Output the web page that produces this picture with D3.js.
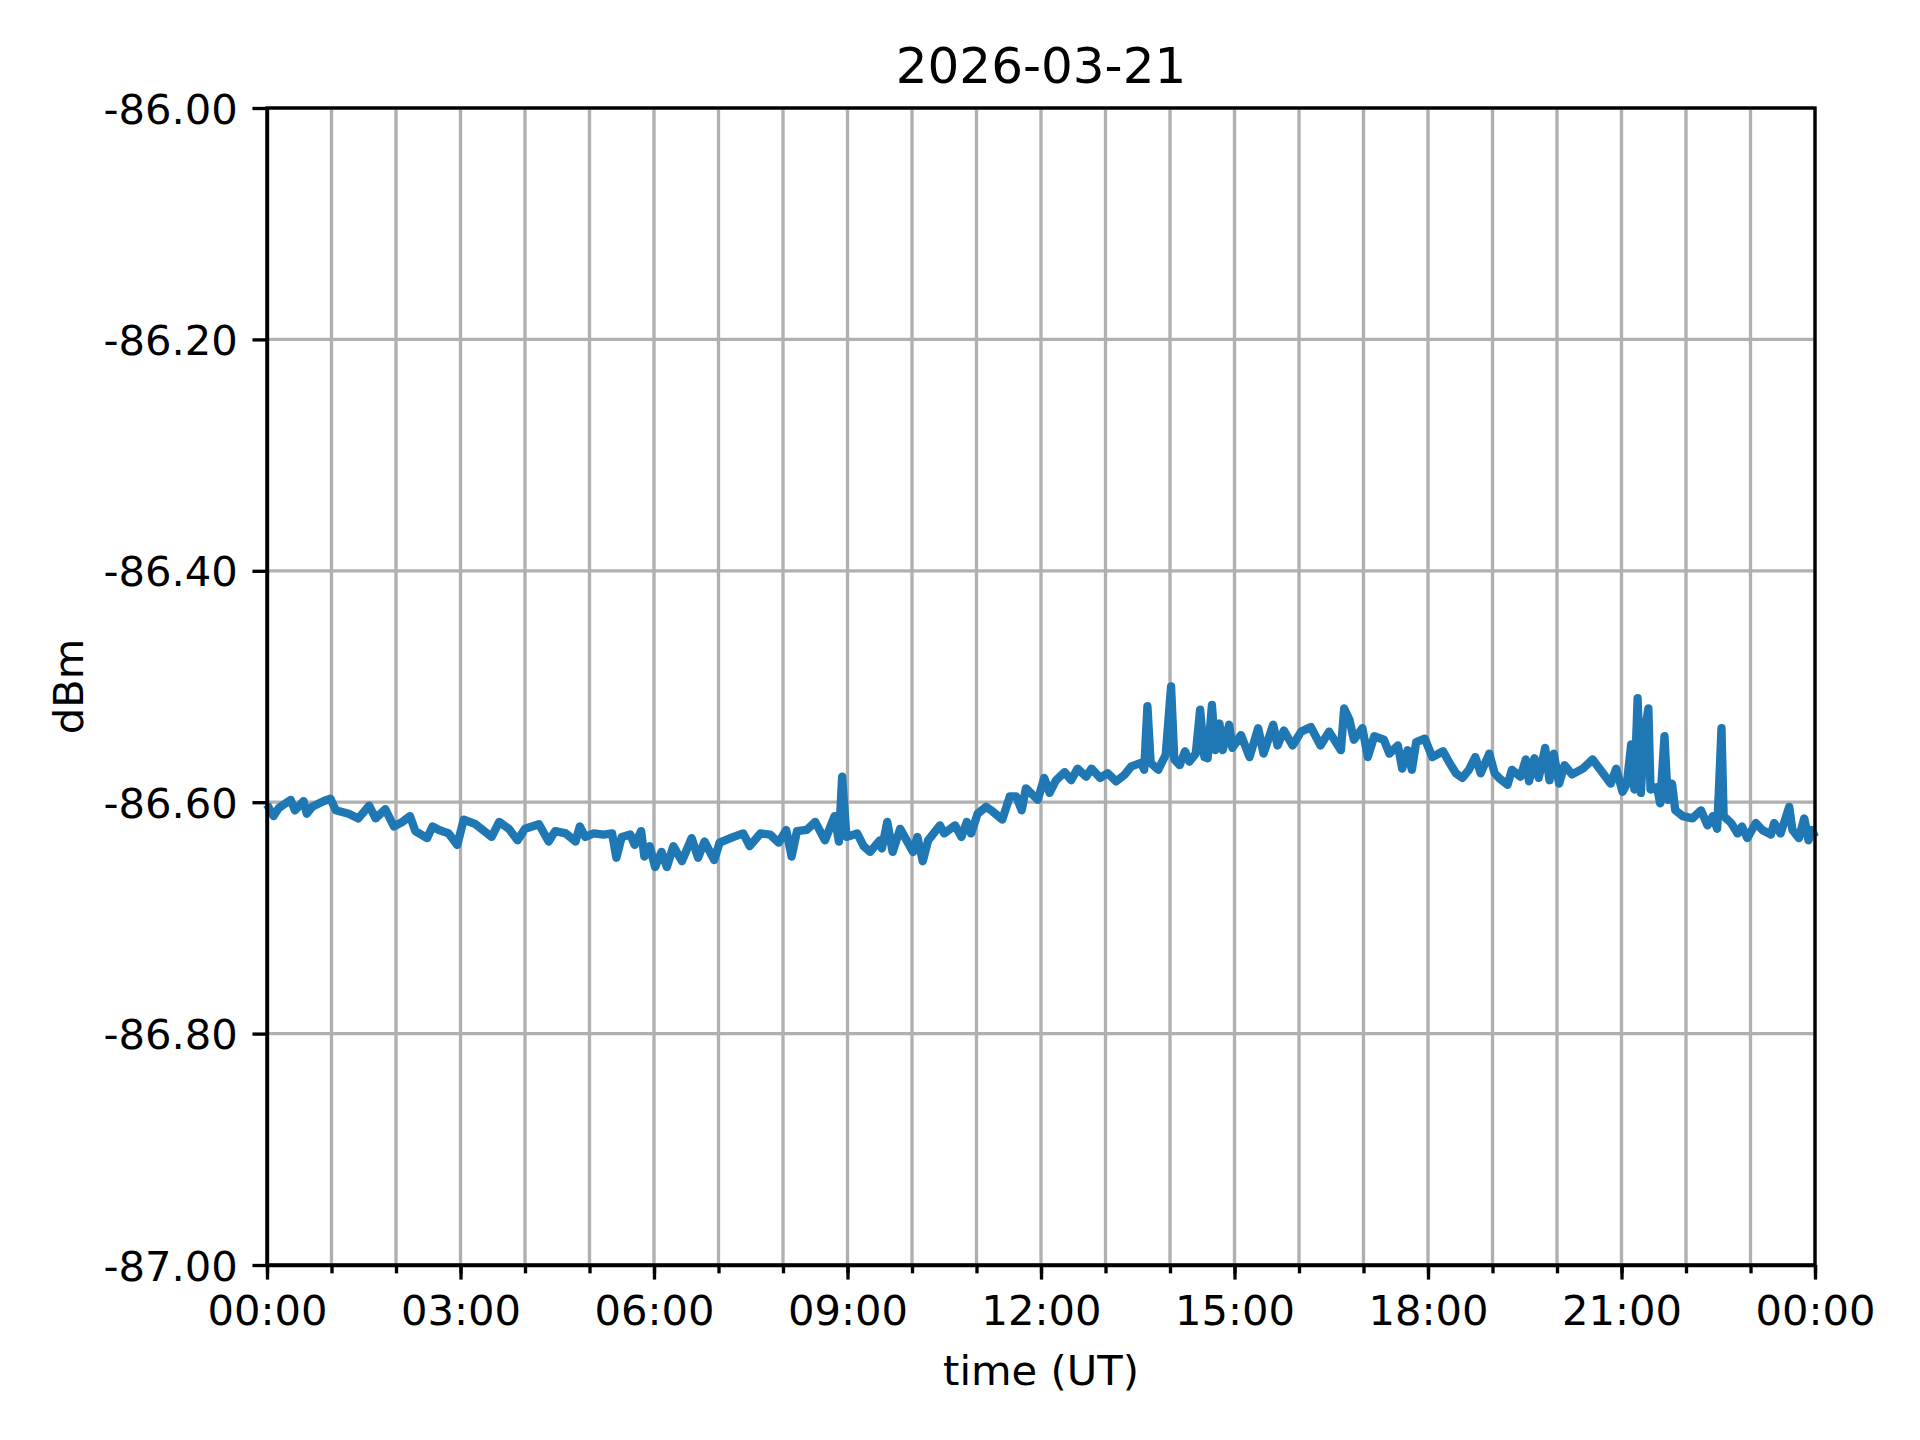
<!DOCTYPE html>
<html lang="en">
<head>
<meta charset="utf-8">
<title>2026-03-21</title>
<script src="https://d3js.org/d3.v7.min.js"></script>
<style>
    body { margin: 0; background: #fff; }
    text { font-family: "DejaVu Sans", sans-serif; fill: #000; }
</style>
</head>
<body>
<svg width="1920" height="1440"></svg>
<script>
    var title = "2026-03-21";
    var xLabel = "time (UT)";
    var yLabel = "dBm";
    var day = "2026-03-21T00:00:00Z";

    // [minute of day, dBm]
    var series = [
        [0,-86.602],[6,-86.612],[11,-86.605],[22,-86.598],[26,-86.607],[34,-86.599],[37,-86.610],[42,-86.604],
        [53,-86.599],[59,-86.597],[64,-86.607],[76,-86.610],[85,-86.614],[95,-86.603],[101,-86.614],[110,-86.606],
        [118,-86.621],[126,-86.617],[133,-86.612],[138,-86.625],[149,-86.631],[154,-86.621],[160,-86.624],[169,-86.627],
        [177,-86.637],[183,-86.615],[194,-86.619],[209,-86.630],[216,-86.617],[225,-86.623],[233,-86.633],[240,-86.623],
        [253,-86.619],[262,-86.634],[268,-86.625],[278,-86.627],[287,-86.634],
        [291,-86.621],[296,-86.630],[304,-86.627],[313,-86.628],[321,-86.627],[325,-86.648],[330,-86.630],[338,-86.628],
        [342,-86.637],[348,-86.625],[351,-86.647],[356,-86.638],[361,-86.656],[367,-86.643],[372,-86.656],[378,-86.638],
        [386,-86.651],[395,-86.631],[401,-86.648],[407,-86.634],[416,-86.650],[421,-86.635],[434,-86.630],[443,-86.627],
        [449,-86.638],[459,-86.627],[468,-86.628],[476,-86.635],[483,-86.624],[488,-86.647],[493,-86.625],[502,-86.624],
        [510,-86.617],[519,-86.633],[528,-86.612],[532,-86.634],[535,-86.578],[539,-86.630],[549,-86.627],[555,-86.638],
        [561,-86.643],[570,-86.633],
        [572,-86.640],[577,-86.617],[582,-86.643],[589,-86.623],[595,-86.633],[601,-86.643],[605,-86.630],[610,-86.651],
        [615,-86.633],[626,-86.620],[630,-86.627],[640,-86.620],[646,-86.630],[651,-86.617],[655,-86.627],[661,-86.610],
        [669,-86.604],[675,-86.608],[684,-86.615],[691,-86.595],[697,-86.595],[702,-86.607],[706,-86.588],[717,-86.598],
        [723,-86.579],[728,-86.592],[734,-86.581],[742,-86.574],[748,-86.581],[754,-86.571],[762,-86.578],[767,-86.571],
        [775,-86.579],[782,-86.575],[790,-86.582],[798,-86.576],[804,-86.569],[813,-86.566],[816,-86.572],[819,-86.517],
        [822,-86.566],[829,-86.572],[836,-86.559],[841,-86.500],[844,-86.563],[849,-86.568],[854,-86.556],
        [858,-86.565],[864,-86.558],[868,-86.520],[872,-86.561],[875,-86.562],[879,-86.516],[882,-86.555],[886,-86.532],
        [889,-86.555],[895,-86.533],[898,-86.553],[906,-86.542],[914,-86.561],[922,-86.536],[927,-86.558],[936,-86.533],
        [940,-86.551],[946,-86.538],[954,-86.551],[962,-86.539],[971,-86.535],[980,-86.551],[988,-86.539],[999,-86.555],
        [1002,-86.519],[1007,-86.529],[1011,-86.546],[1019,-86.536],[1024,-86.561],[1030,-86.543],[1039,-86.546],[1044,-86.558],
        [1052,-86.551],[1056,-86.571],[1061,-86.555],[1065,-86.572],[1069,-86.548],[1077,-86.545],[1084,-86.561],[1094,-86.556],
        [1100,-86.566],[1106,-86.575],[1112,-86.579],[1118,-86.572],[1124,-86.561],[1129,-86.575],[1137,-86.558],[1142,-86.575],
        [1146,-86.579],[1154,-86.585],[1158,-86.572],[1166,-86.578],[1171,-86.563],[1174,-86.582],[1179,-86.562],[1183,-86.579],
        [1189,-86.553],[1193,-86.581],[1197,-86.558],[1202,-86.584],[1207,-86.568],[1214,-86.576],[1224,-86.571],[1233,-86.563],
        [1242,-86.574],[1250,-86.584],[1255,-86.571],[1261,-86.591],[1265,-86.584],[1269,-86.550],[1272,-86.589],[1275,-86.510],
        [1278,-86.592],[1281,-86.543],[1285,-86.519],[1287,-86.589],[1293,-86.587],[1296,-86.601],[1300,-86.543],[1303,-86.598],
        [1307,-86.584],[1310,-86.607],[1317,-86.612],[1326,-86.614],[1334,-86.607],[1340,-86.620],[1345,-86.612],[1349,-86.623],
        [1351,-86.581],[1353,-86.536],[1355,-86.612],[1362,-86.618],[1368,-86.627],[1372,-86.621],[1377,-86.631],[1385,-86.618],
        [1391,-86.624],[1399,-86.628],[1402,-86.618],[1408,-86.627],[1416,-86.604],[1419,-86.624],[1425,-86.631],[1430,-86.614],
        [1434,-86.633],[1437,-86.624],[1440,-86.630]
    ];

    var yTicks = [-87.0, -86.8, -86.6, -86.4, -86.2, -86.0];
    var majorHours = [0, 3, 6, 9, 12, 15, 18, 21, 24];

    var marge = {top:108, bottom:175, left:267, right:105};
    var svg = d3.select("svg");
    var width = +svg.attr("width");
    var height = +svg.attr("height");
    var w = width - marge.left - marge.right;
    var h = height - marge.top - marge.bottom;
    var pt = 300 / 72; // figure was saved at 300 dpi

    var g = svg.append("g")
        .attr("transform", "translate(" + marge.left + "," + marge.top + ")");

    var t0 = new Date(day);
    var t1 = d3.utcDay.offset(t0, 1);
    var xScale = d3.scaleUtc().domain([t0, t1]).range([0, w]);
    var yScale = d3.scaleLinear().domain([-87, -86]).range([h, 0]);

    var hourTicks = d3.utcHour.range(t0, d3.utcMinute.offset(t1, 1));
    var majorTicks = majorHours.map(function(hr){ return d3.utcHour.offset(t0, hr); });

    // grid
    g.append("g").selectAll("line")
        .data(hourTicks)
        .enter().append("line")
        .attr("x1", function(d){ return xScale(d); })
        .attr("x2", function(d){ return xScale(d); })
        .attr("y1", 0).attr("y2", h)
        .attr("stroke", "#b0b0b0").attr("stroke-width", 0.8 * pt);
    g.append("g").selectAll("line")
        .data(yTicks)
        .enter().append("line")
        .attr("x1", 0).attr("x2", w)
        .attr("y1", function(d){ return yScale(d); })
        .attr("y2", function(d){ return yScale(d); })
        .attr("stroke", "#b0b0b0").attr("stroke-width", 0.8 * pt);

    // trace (the original is a dense noisy trace, so it reads a little heavier than 1.5pt)
    var line = d3.line()
        .x(function(d){ return xScale(d3.utcMinute.offset(t0, d[0])); })
        .y(function(d){ return yScale(d[1]); });
    g.append("path")
        .datum(series)
        .attr("d", line)
        .attr("fill", "none")
        .attr("stroke", "#1f77b4")
        .attr("stroke-width", 2 * pt)
        .attr("stroke-linejoin", "round");

    // axes
    var tickFont = 10 * pt;
    var fmtY = function(d){ return d3.format(".2f")(d).replace("\u2212", "-"); };
    var xMinor = d3.axisBottom(xScale).tickValues(hourTicks).tickSize(2 * pt).tickFormat("");
    var xAxis = d3.axisBottom(xScale).tickValues(majorTicks).tickSize(3.5 * pt).tickSizeOuter(0)
        .tickPadding(3.5 * pt).tickFormat(d3.utcFormat("%H:%M"));
    var yAxis = d3.axisLeft(yScale).tickValues(yTicks).tickSize(3.5 * pt).tickSizeOuter(0)
        .tickPadding(3.5 * pt).tickFormat(fmtY);

    var gxm = g.append("g").attr("transform", "translate(0," + h + ")").call(xMinor);
    gxm.select(".domain").remove();
    var gx = g.append("g").attr("transform", "translate(0," + h + ")").call(xAxis);
    var gy = g.append("g").call(yAxis);

    [gxm, gx, gy].forEach(function(a){
        a.selectAll("line").attr("stroke", "#000").attr("stroke-width", 0.8 * pt);
        a.selectAll("path").attr("stroke", "#000").attr("stroke-width", 0.8 * pt);
        a.selectAll("text")
            .attr("font-family", "DejaVu Sans")
            .attr("font-size", tickFont)
            .attr("fill", "#000");
    });
    gx.selectAll("text").attr("dy", "0.74em");
    gy.selectAll("text").attr("dy", "0.36em");

    // frame
    g.append("rect")
        .attr("x", 0).attr("y", 0).attr("width", w).attr("height", h)
        .attr("fill", "none").attr("stroke", "#000").attr("stroke-width", 0.8 * pt)
        .attr("stroke-linecap", "square");

    // labels
    svg.append("text")
        .attr("x", marge.left + w / 2).attr("y", 83)
        .attr("text-anchor", "middle")
        .attr("font-size", 12 * pt)
        .text(title);
    svg.append("text")
        .attr("x", marge.left + w / 2).attr("y", 1385)
        .attr("text-anchor", "middle")
        .attr("font-size", tickFont)
        .text(xLabel);
    svg.append("text")
        .attr("transform", "translate(83," + (marge.top + h / 2) + ") rotate(-90)")
        .attr("text-anchor", "middle")
        .attr("font-size", tickFont)
        .text(yLabel);
</script>
</body>
</html>
